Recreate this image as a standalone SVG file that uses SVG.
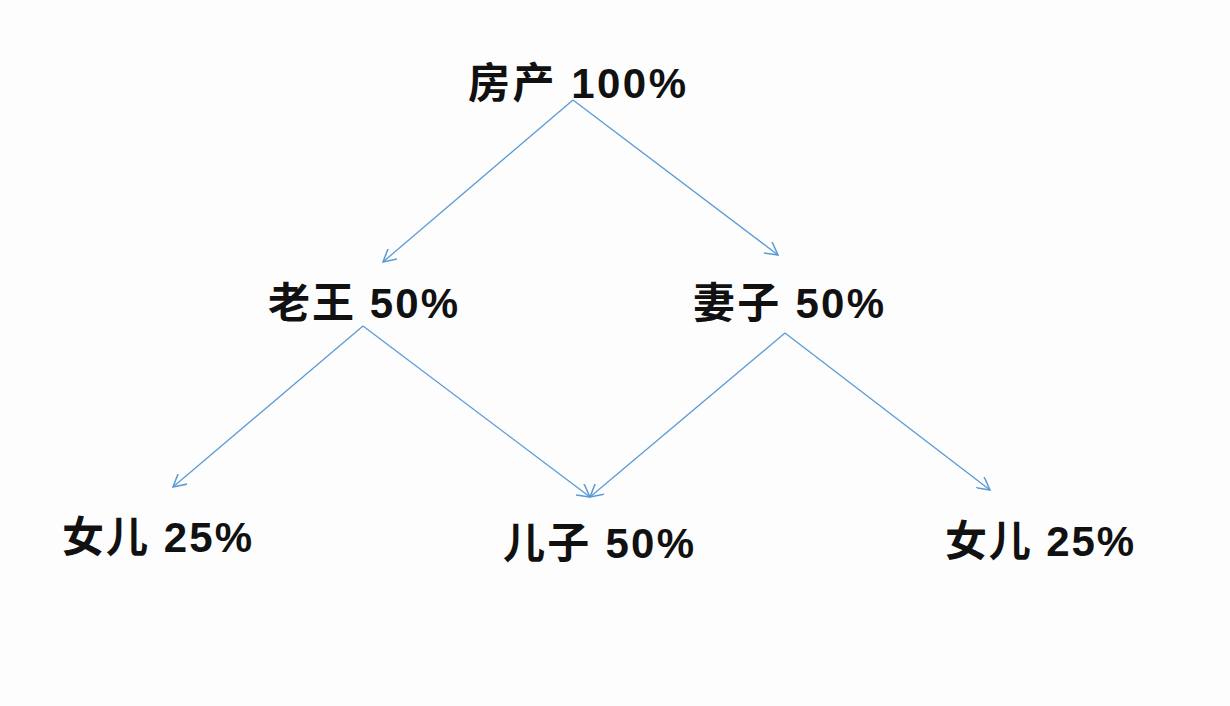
<svg xmlns="http://www.w3.org/2000/svg" width="1230" height="706" viewBox="0 0 1230 706">
<style>
.t{font-family:"Liberation Sans","Noto Sans CJK SC",sans-serif;font-size:42px;font-weight:bold;fill:#111}
.c{stroke:#5b9bd5;stroke-width:1.3;fill:none;marker-end:url(#a)}
</style>
<defs><marker id="a" viewBox="0 0 12 12" refX="11" refY="6" markerWidth="14" markerHeight="14" markerUnits="userSpaceOnUse" orient="auto"><path d="M0,0 L11,6 L0,12" fill="none" stroke="#5b9bd5" stroke-width="1.3"/></marker></defs>
<rect width="1230" height="706" fill="#fdfdfd"/>
<g id="connectors">
<line class="c" x1="573" y1="100" x2="383" y2="262"/>
<line class="c" x1="573" y1="100" x2="778" y2="255"/>
<line class="c" x1="363" y1="326" x2="173" y2="487"/>
<line class="c" x1="363" y1="326" x2="590" y2="497"/>
<line class="c" x1="785" y1="333" x2="590" y2="497"/>
<line class="c" x1="785" y1="333" x2="990" y2="490"/>
</g>
<g id="n0"><text class="t" x="468" y="98" textLength="218">房产 100%</text></g>
<g id="n1"><text class="t" x="268" y="318" textLength="190">老王 50%</text></g>
<g id="n2"><text class="t" x="693" y="318" textLength="191">妻子 50%</text></g>
<g id="n3"><text class="t" x="62" y="552" textLength="190">女儿 25%</text></g>
<g id="n4"><text class="t" x="503" y="558" textLength="191">儿子 50%</text></g>
<g id="n5"><text class="t" x="945" y="556" textLength="189">女儿 25%</text></g>
</svg>
